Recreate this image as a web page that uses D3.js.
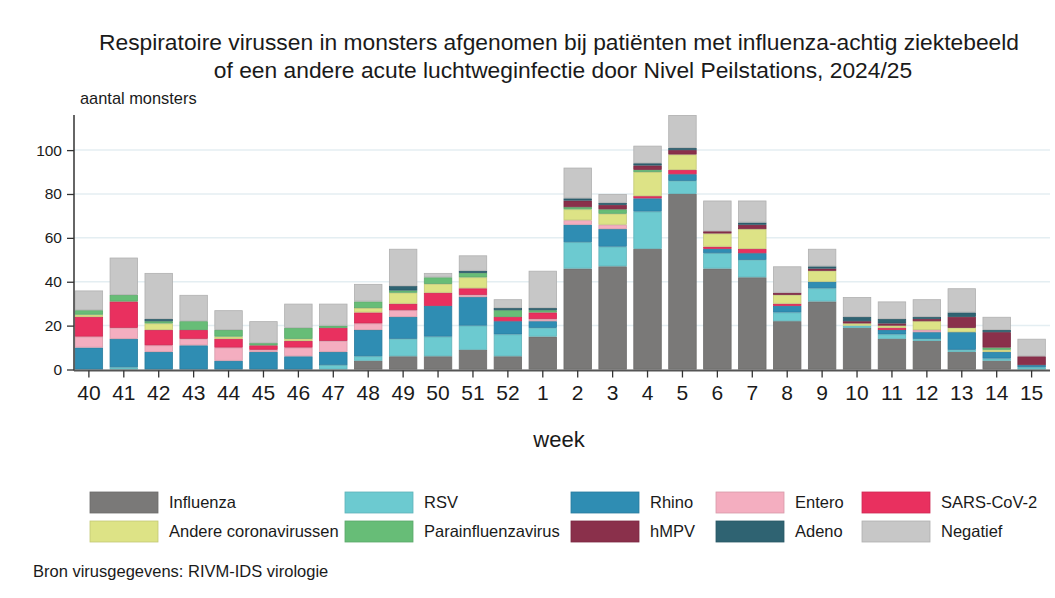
<!DOCTYPE html>
<html>
<head>
<meta charset="utf-8">
<script src="https://cdn.jsdelivr.net/npm/d3@7"></script>
<style>
  body { margin: 0; background: #fff; font-family: "Liberation Sans", Arial, sans-serif; }
</style>
</head>
<body>
<div id="chart"></div>
<script>
// weeks of the 2024/25 season
const weeks = ["40","41","42","43","44","45","46","47","48","49","50","51","52",
               "1","2","3","4","5","6","7","8","9","10","11","12","13","14","15"];

const yTicks = [0, 20, 40, 60, 80, 100];

// series (stacked bottom -> top)
const influenza = [0,0,0,0,0,0,0,0,4,6,6,9,6,15,46,47,55,80,46,42,22,31,19,14,13,8,4,0];
const rsv       = [0,1,0,0,0,0,0,2,2,8,9,11,10,4,12,9,17,6,7,8,4,6,1,2,1,1,1,1];
const rhino     = [10,13,8,11,4,8,6,6,12,10,14,13,6,3,8,8,6,3,2,3,3,3,0,2,3,8,3,1];
const entero    = [5,5,3,3,6,1,4,5,3,3,0,1,0,1,2,2,0,0,0,0,0,0,0,0,1,0,0,0];
const sarsCov2  = [9,12,7,4,4,2,3,6,5,3,6,3,2,3,0,0,1,2,1,2,1,0,0,1,0,0,0,0];
const corona    = [1,0,3,0,1,0,1,0,2,5,4,5,0,0,5,5,11,7,6,9,4,5,1,1,4,2,1,0];
const parainfl  = [2,3,1,4,3,1,5,1,3,1,3,2,3,1,1,2,1,0,0,0,0,0,0,0,0,0,1,0];
const hmpv      = [0,0,0,0,0,0,0,0,0,0,0,0,0,0,3,2,2,2,1,2,1,1,1,1,1,5,7,4];
const adeno     = [0,0,1,0,0,0,0,0,0,2,0,1,1,1,1,1,1,1,0,1,0,1,2,2,1,2,1,0];
const negatief  = [9,17,21,12,9,10,11,10,8,17,2,7,4,17,14,4,8,15,14,10,12,8,9,8,8,11,6,8];

const seriesNames = ["Influenza","RSV","Rhino","Entero","SARS-CoV-2",
                     "Andere coronavirussen","Parainfluenzavirus","hMPV","Adeno","Negatief"];
const seriesValues = [influenza, rsv, rhino, entero, sarsCov2, corona, parainfl, hmpv, adeno, negatief];
const seriesColors = ["#7a7978","#6ccad0","#2f8db3","#f4aec0","#e9305f",
                      "#dde386","#67bd77","#8a304b","#2f6372","#c7c7c7"];

// table for d3.stack
const table = weeks.map((w, i) => {
    const row = { week: w };
    seriesNames.forEach((s, j) => row[s] = seriesValues[j][i]);
    return row;
});

const W = 1055, H = 598;
const svg = d3.select("#chart").append("svg")
    .attr("width", W).attr("height", H);

const x = d3.scaleBand()
    .domain(weeks)
    .range([73, 1047.5])
    .paddingInner(0.19)
    .paddingOuter(0.05);

const y = d3.scaleLinear()
    .domain([0, 116])
    .range([369.5, 115]);

// gridlines
svg.append("g")
    .selectAll("line")
    .data(yTicks.slice(1))
    .join("line")
    .attr("x1", 74).attr("x2", 1050)
    .attr("y1", d => y(d)).attr("y2", d => y(d))
    .attr("stroke", "#e4eef2")
    .attr("stroke-width", 1.5);

// bars
const stacked = d3.stack().keys(seriesNames)(table);
const color = d3.scaleOrdinal().domain(seriesNames).range(seriesColors);

svg.append("g")
    .selectAll("g")
    .data(stacked)
    .join("g")
    .attr("fill", d => color(d.key))
    .attr("stroke", d => d3.color(color(d.key)).darker(0.35))
    .attr("stroke-width", 0.8)
    .selectAll("rect")
    .data(d => d.filter(v => v[1] > v[0]))
    .join("rect")
    .attr("x", d => x(d.data.week) + 0.4)
    .attr("width", x.bandwidth() - 0.8)
    .attr("y", d => y(d[1]) + 0.4)
    .attr("height", d => Math.max(0, y(d[0]) - y(d[1]) - 0.8));

// y axis
const yAxis = svg.append("g")
    .attr("transform", "translate(74,0)")
    .call(d3.axisLeft(y).tickValues(yTicks).tickSize(7).tickPadding(5));
yAxis.select(".domain").attr("d", `M0,${y(116)}V${y(0) + 1}`).attr("stroke", "#333").attr("stroke-width", 1.5);
yAxis.selectAll(".tick line").attr("stroke", "#333").attr("stroke-width", 1.3);
yAxis.selectAll(".tick text")
    .attr("fill", "#1a1a1a")
    .style("font-family", "Liberation Sans, Arial, sans-serif")
    .style("font-size", "15.5px");

// x axis
const xAxis = svg.append("g")
    .attr("transform", `translate(0,${y(0) + 1})`)
    .call(d3.axisBottom(x).tickSize(7).tickPadding(8));
xAxis.select(".domain").attr("d", "M74,0H1050").attr("stroke", "#555").attr("stroke-width", 2);
xAxis.selectAll(".tick line").attr("stroke", "#333").attr("stroke-width", 1.3);
xAxis.selectAll(".tick text")
    .attr("fill", "#1a1a1a")
    .style("font-family", "Liberation Sans, Arial, sans-serif")
    .style("font-size", "21px");

// titles
const title = svg.append("text")
    .attr("text-anchor", "middle")
    .attr("fill", "#1a1a1a")
    .style("font-size", "22.8px");
title.append("tspan").attr("x", 559).attr("y", 50)
    .text("Respiratoire virussen in monsters afgenomen bij patiënten met influenza-achtig ziektebeeld");
title.append("tspan").attr("x", 563).attr("y", 78)
    .text("of een andere acute luchtweginfectie door Nivel Peilstations, 2024/25");

svg.append("text")
    .attr("x", 80).attr("y", 104)
    .attr("fill", "#1a1a1a")
    .style("font-size", "16.4px")
    .text("aantal monsters");

svg.append("text")
    .attr("x", 559).attr("y", 447)
    .attr("text-anchor", "middle")
    .attr("fill", "#1a1a1a")
    .style("font-size", "22px")
    .text("week");

// legend
const legendCols = [90, 345, 571, 716, 862];
const legendRows = [492, 521];
const legend = svg.append("g")
    .selectAll("g")
    .data(seriesNames)
    .join("g")
    .attr("transform", (d, i) => `translate(${legendCols[i % 5]},${legendRows[Math.floor(i / 5)]})`);
legend.append("rect")
    .attr("width", 68).attr("height", 21)
    .attr("fill", d => color(d))
    .attr("stroke", d => d3.color(color(d)).darker(0.35))
    .attr("stroke-width", 0.8);
legend.append("text")
    .attr("x", 79).attr("y", 16)
    .attr("fill", "#1a1a1a")
    .style("font-size", "16.5px")
    .text(d => d);

svg.append("text")
    .attr("x", 33).attr("y", 577)
    .attr("fill", "#1a1a1a")
    .style("font-size", "16.5px")
    .text("Bron virusgegevens: RIVM-IDS virologie");
</script>
</body>
</html>
